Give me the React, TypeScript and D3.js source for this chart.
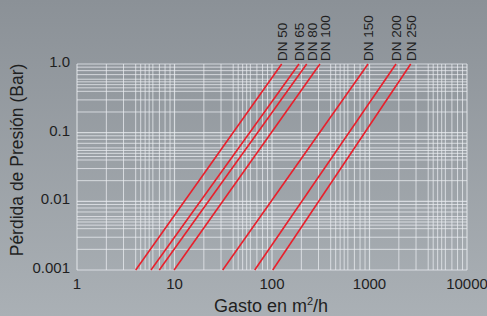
import React from "react";
import * as d3 from "d3";

const W = 487;
const H = 316;

const series = ["DN 50", "DN 65", "DN 80", "DN 100", "DN 150", "DN 200", "DN 250"];
// flow (m²/h) at 0.001 bar and at 1.0 bar
const flowAtMin = [4.0, 5.74, 6.98, 9.9, 31.2, 66.5, 101.7];
const flowAtMax = [125.7, 189, 227, 310, 966, 1870, 2647];
const pressureRange = [0.001, 1.0];

const xTicks = [1, 10, 100, 1000, 10000];
const xTickLabels = ["1", "10", "100", "1000", "10000"];
const yTicks = [0.001, 0.01, 0.1, 1.0];
const yTickLabels = ["0.001", "0.01", "0.1", "1.0"];
const minorMultipliers = [2, 3, 4, 4.5, 5, 5.5, 6, 7, 8, 9];

export default function App() {
  const left = 77, right = 467, top = 64, bottom = 270;
  const x = d3.scaleLog().domain([1, 10000]).range([left, right]);
  const y = d3.scaleLog().domain([0.001, 1]).range([bottom, top]);

  const xMinor: number[] = [];
  for (let d = 1; d < 10000; d *= 10) minorMultipliers.forEach((m) => xMinor.push(d * m));
  const yMinor: number[] = [];
  for (let d = 0.001; d < 0.99; d *= 10) minorMultipliers.forEach((m) => yMinor.push(d * m));

  const line = d3
    .line<[number, number]>()
    .x((d) => x(d[0]))
    .y((d) => y(d[1]));

  // label positions: at line top, with a minimum spacing
  const labelX: number[] = [];
  flowAtMax.forEach((q, i) => {
    let px = x(q);
    if (i > 0 && px < labelX[i - 1] + 13) px = labelX[i - 1] + 13;
    labelX.push(px);
  });

  const gridColor = "rgba(235,238,241,0.75)";
  const font = "'Liberation Sans', Arial, Helvetica, sans-serif";
  const textColor = "#1f1f1f";

  return (
    <svg
      width={W}
      height={H}
      style={{ position: "absolute", left: 0, top: 0, display: "block" }}
      fontFamily={font}
    >
      <defs>
        <linearGradient id="bg" x1="0" y1="0" x2="0" y2="1">
          <stop offset="0" stopColor="#8b9197" />
          <stop offset="1" stopColor="#aab0b5" />
        </linearGradient>
      </defs>
      <rect x={0} y={0} width={W} height={H} fill="url(#bg)" />

      {/* minor grid */}
      {xMinor.map((v, i) => (
        <line key={"xm" + i} x1={x(v)} x2={x(v)} y1={top} y2={bottom} stroke={gridColor} strokeWidth={1} />
      ))}
      {yMinor.map((v, i) => (
        <line key={"ym" + i} x1={left} x2={right} y1={y(v)} y2={y(v)} stroke={gridColor} strokeWidth={1} />
      ))}
      {/* major grid */}
      {xTicks.map((v, i) => (
        <line key={"xM" + i} x1={x(v)} x2={x(v)} y1={top} y2={bottom} stroke={gridColor} strokeWidth={1.2} />
      ))}
      {yTicks.map((v, i) => (
        <line key={"yM" + i} x1={left} x2={right} y1={y(v)} y2={y(v)} stroke={gridColor} strokeWidth={1.2} />
      ))}

      {/* series lines */}
      {series.map((s, i) => (
        <path
          key={s}
          d={line([
            [flowAtMin[i], pressureRange[0]],
            [flowAtMax[i], pressureRange[1]],
          ]) || ""}
          fill="none"
          stroke="#e8202c"
          strokeWidth={1.6}
        />
      ))}

      {/* series labels */}
      {series.map((s, i) => (
        <text
          key={"l" + s}
          transform={`translate(${labelX[i] + 5},61) rotate(-90)`}
          fontSize={13.5}
          fill={textColor}
        >
          {s}
        </text>
      ))}

      {/* y tick labels */}
      {yTicks.map((v, i) => (
        <text key={"yt" + i} x={70} y={y(v) + 3} fontSize={15} textAnchor="end" fill={textColor}>
          {yTickLabels[i]}
        </text>
      ))}
      {/* x tick labels */}
      {xTicks.map((v, i) => (
        <text key={"xt" + i} x={x(v)} y={289} fontSize={15} textAnchor="middle" fill={textColor}>
          {xTickLabels[i]}
        </text>
      ))}

      {/* axis titles */}
      <text
        transform={`translate(23,${(top + bottom) / 2 - 7}) rotate(-90)`}
        fontSize={17.5}
        textAnchor="middle"
        fill={textColor}
      >
        Pérdida de Presión (Bar)
      </text>
      <text x={271} y={312} fontSize={18} textAnchor="middle" fill={textColor}>
        Gasto en m<tspan dy={-7} fontSize={11}>2</tspan>
        <tspan dy={7}>/h</tspan>
      </text>
    </svg>
  );
}
